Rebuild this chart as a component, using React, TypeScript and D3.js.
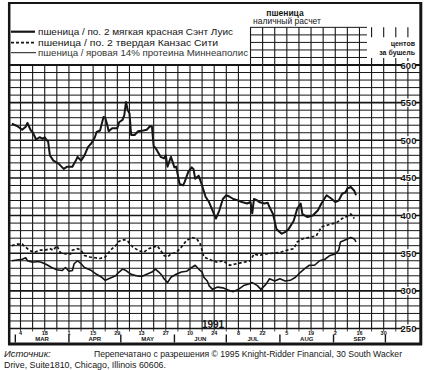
import React from 'react';
import * as d3 from 'd3';

type Pt = [string, number];

// пшеница / по. 2 мягкая красная, Сент-Луис (толстая линия)
const stLouis: Pt[] = [
  ['1991-02-27', 522], ['1991-03-02', 519], ['1991-03-05', 514], ['1991-03-07', 518], ['1991-03-08', 523],
  ['1991-03-10', 513], ['1991-03-11', 511], ['1991-03-13', 501], ['1991-03-15', 504], ['1991-03-17', 502],
  ['1991-03-18', 504], ['1991-03-20', 498], ['1991-03-21', 480], ['1991-03-23', 473], ['1991-03-26', 469],
  ['1991-03-29', 462], ['1991-03-31', 465], ['1991-04-03', 465], ['1991-04-05', 473], ['1991-04-06', 478],
  ['1991-04-08', 473], ['1991-04-10', 480], ['1991-04-12', 491], ['1991-04-14', 496], ['1991-04-16', 504],
  ['1991-04-17', 511], ['1991-04-19', 513], ['1991-04-21', 531], ['1991-04-22', 530], ['1991-04-23', 522],
  ['1991-04-24', 512], ['1991-04-26', 516], ['1991-04-29', 516], ['1991-04-30', 524], ['1991-05-02', 527],
  ['1991-05-03', 533], ['1991-05-04', 551], ['1991-05-05', 540], ['1991-05-06', 536], ['1991-05-07', 507],
  ['1991-05-09', 507], ['1991-05-11', 512], ['1991-05-14', 513], ['1991-05-16', 514], ['1991-05-18', 519],
  ['1991-05-19', 518], ['1991-05-20', 492], ['1991-05-21', 490], ['1991-05-24', 478], ['1991-05-26', 476],
  ['1991-05-27', 480], ['1991-05-28', 465], ['1991-05-30', 478], ['1991-06-01', 464], ['1991-06-02', 465],
  ['1991-06-04', 442], ['1991-06-06', 440], ['1991-06-07', 445], ['1991-06-09', 458], ['1991-06-11', 464],
  ['1991-06-12', 462], ['1991-06-13', 449], ['1991-06-15', 453], ['1991-06-17', 440], ['1991-06-19', 425],
  ['1991-06-21', 418], ['1991-06-23', 407], ['1991-06-25', 396], ['1991-06-27', 407], ['1991-06-29', 422],
  ['1991-07-01', 427], ['1991-07-03', 425], ['1991-07-05', 422], ['1991-07-08', 420], ['1991-07-10', 418],
  ['1991-07-13', 416], ['1991-07-15', 418], ['1991-07-16', 403], ['1991-07-17', 422], ['1991-07-19', 420],
  ['1991-07-20', 418], ['1991-07-23', 416], ['1991-07-25', 417], ['1991-07-26', 411], ['1991-07-28', 402],
  ['1991-07-30', 382], ['1991-08-02', 376], ['1991-08-04', 378], ['1991-08-06', 382], ['1991-08-09', 393],
  ['1991-08-11', 409], ['1991-08-13', 416], ['1991-08-14', 402], ['1991-08-17', 398], ['1991-08-20', 400],
  ['1991-08-23', 407], ['1991-08-25', 416], ['1991-08-28', 427], ['1991-08-31', 422], ['1991-09-02', 418],
  ['1991-09-04', 420], ['1991-09-06', 429], ['1991-09-08', 431], ['1991-09-09', 436], ['1991-09-11', 438],
  ['1991-09-13', 433], ['1991-09-14', 427],
];

// пшеница / по. 2 твердая, Канзас-Сити (пунктир)
const kansasCity: Pt[] = [
  ['1991-02-27', 360], ['1991-03-02', 362], ['1991-03-05', 362], ['1991-03-07', 358], ['1991-03-09', 354],
  ['1991-03-12', 351], ['1991-03-15', 354], ['1991-03-18', 354], ['1991-03-21', 356], ['1991-03-23', 354],
  ['1991-03-25', 360], ['1991-03-27', 351], ['1991-03-30', 349], ['1991-04-02', 349], ['1991-04-03', 354],
  ['1991-04-06', 356], ['1991-04-08', 354], ['1991-04-10', 347], ['1991-04-13', 345], ['1991-04-16', 344],
  ['1991-04-19', 343], ['1991-04-22', 345], ['1991-04-25', 354], ['1991-04-28', 360], ['1991-04-30', 366],
  ['1991-05-03', 368], ['1991-05-05', 366], ['1991-05-08', 358], ['1991-05-11', 354], ['1991-05-14', 351],
  ['1991-05-17', 356], ['1991-05-20', 358], ['1991-05-22', 360], ['1991-05-24', 354], ['1991-05-26', 347],
  ['1991-05-28', 345], ['1991-05-30', 349], ['1991-06-02', 351], ['1991-06-05', 358], ['1991-06-08', 367],
  ['1991-06-11', 371], ['1991-06-14', 369], ['1991-06-16', 362], ['1991-06-18', 345], ['1991-06-20', 343],
  ['1991-06-23', 340], ['1991-06-26', 338], ['1991-06-29', 340], ['1991-07-03', 334], ['1991-07-07', 336],
  ['1991-07-11', 338], ['1991-07-15', 340], ['1991-07-17', 349], ['1991-07-20', 347], ['1991-07-24', 349],
  ['1991-07-28', 350], ['1991-08-01', 351], ['1991-08-05', 354], ['1991-08-09', 356], ['1991-08-11', 365],
  ['1991-08-14', 369], ['1991-08-18', 371], ['1991-08-22', 373], ['1991-08-25', 385], ['1991-08-28', 387],
  ['1991-08-31', 389], ['1991-09-03', 391], ['1991-09-06', 396], ['1991-09-08', 398], ['1991-09-11', 402],
  ['1991-09-13', 396],
];

// пшеница / яровая 14% протеина, Миннеаполис (тонкая линия)
const minneapolis: Pt[] = [
  ['1991-02-27', 340], ['1991-03-02', 341], ['1991-03-05', 342], ['1991-03-07', 344], ['1991-03-08', 340],
  ['1991-03-11', 338], ['1991-03-14', 339], ['1991-03-16', 338], ['1991-03-19', 335], ['1991-03-22', 331],
  ['1991-03-25', 328], ['1991-03-28', 327], ['1991-03-30', 331], ['1991-04-01', 326], ['1991-04-03', 327],
  ['1991-04-04', 336], ['1991-04-06', 340], ['1991-04-08', 336], ['1991-04-10', 331], ['1991-04-12', 329],
  ['1991-04-14', 327], ['1991-04-17', 322], ['1991-04-20', 318], ['1991-04-22', 314], ['1991-04-25', 317],
  ['1991-04-28', 320], ['1991-04-30', 325], ['1991-05-02', 329], ['1991-05-04', 327], ['1991-05-07', 322],
  ['1991-05-10', 320], ['1991-05-13', 319], ['1991-05-16', 322], ['1991-05-19', 325], ['1991-05-21', 329],
  ['1991-05-23', 325], ['1991-05-25', 320], ['1991-05-26', 316], ['1991-05-28', 311], ['1991-05-30', 318],
  ['1991-06-02', 322], ['1991-06-05', 325], ['1991-06-08', 326], ['1991-06-11', 331], ['1991-06-13', 334],
  ['1991-06-15', 329], ['1991-06-17', 325], ['1991-06-18', 318], ['1991-06-20', 313], ['1991-06-21', 307],
  ['1991-06-23', 302], ['1991-06-26', 305], ['1991-06-29', 304], ['1991-07-02', 301], ['1991-07-05', 299],
  ['1991-07-08', 302], ['1991-07-11', 307], ['1991-07-14', 309], ['1991-07-16', 311], ['1991-07-19', 307],
  ['1991-07-21', 302], ['1991-07-24', 309], ['1991-07-26', 316], ['1991-07-29', 313], ['1991-08-01', 316],
  ['1991-08-04', 313], ['1991-08-07', 314], ['1991-08-10', 318], ['1991-08-13', 325], ['1991-08-15', 329],
  ['1991-08-18', 334], ['1991-08-21', 334], ['1991-08-24', 340], ['1991-08-27', 342], ['1991-08-30', 347],
  ['1991-09-02', 349], ['1991-09-04', 354], ['1991-09-05', 365], ['1991-09-07', 367], ['1991-09-09', 369],
  ['1991-09-11', 371], ['1991-09-13', 369], ['1991-09-14', 365],
];

const yTicks = [250, 300, 350, 400, 450, 500, 550, 600];
const dateTicks = [
  '1991-03-04', '1991-03-18', '1991-04-01', '1991-04-15', '1991-04-29', '1991-05-13', '1991-05-27', '1991-06-10',
  '1991-06-24', '1991-07-08', '1991-07-22', '1991-08-05', '1991-08-19', '1991-09-02', '1991-09-16', '1991-09-30',
];
const monthLabels = ['MAR', 'APR', 'MAY', 'JUN', 'JUL', 'AUG', 'SEP'];
const monthStarts = ['1991-03-01', '1991-04-01', '1991-05-01', '1991-06-01', '1991-07-01', '1991-08-01', '1991-09-01', '1991-10-01'];
const legendLabels = [
  'пшеница / по. 2 мягкая красная Сэнт Луис',
  'пшеница / по. 2 твердая Канзас Сити',
  'пшеница / яровая 14% протеина Миннеаполис',
];

const parse = d3.utcParse('%Y-%m-%d');
const FONT = '"Liberation Sans", Arial, sans-serif';
const INK = '#161616';

export default function App() {
  const x = d3.scaleUtc()
    .domain([parse('1991-02-25')!, parse('1991-10-21')!])
    .range([8.4, 420]);
  const y = d3.scaleLinear().domain([250, 600]).range([328.5, 65]);

  const weeks = d3.utcMonday.range(parse('1991-02-26')!, parse('1991-10-21')!);
  const hLines = d3.range(250, 601, 10);
  const headerLines = d3.range(610, 651, 10);

  const line = d3.line<Pt>()
    .x(d => x(parse(d[0])!))
    .y(d => y(d[1]));

  const legendY = [31.7, 42.7, 52.7];
  const boxLeft = 250, boxRight = 367;

  return (
    <svg width={428} height={370} style={{ position: 'absolute', left: 0, top: 0, background: '#fff' }}
      fontFamily={FONT}>
      <rect width={428} height={370} fill="#fff" />

      {/* сетка: горизонтальные линии */}
      {hLines.map(v => (
        <line key={'h' + v} x1={9} x2={420} y1={y(v)} y2={y(v)} stroke={INK}
          strokeWidth={v === 600 ? 2.2 : v % 50 === 0 ? 1.6 : 1} />
      ))}
      {headerLines.map(v => (
        <line key={'hh' + v} x1={boxLeft} x2={boxRight} y1={y(v)} y2={y(v)} stroke={INK} strokeWidth={1} />
      ))}

      {/* сетка: недели */}
      {weeks.map((w, i) => {
        const xx = x(w);
        return (
          <g key={'w' + i}>
            <line x1={xx} x2={xx} y1={y(600)} y2={y(250)} stroke={INK} strokeWidth={1.1} />
            {xx >= boxLeft - 1 && xx <= boxRight && (
              <line x1={xx} x2={xx} y1={y(650)} y2={y(600)} stroke={INK} strokeWidth={1.1} />
            )}
            {xx > boxRight && (
              <>
                <line x1={xx} x2={xx} y1={y(650)} y2={y(650) + 10} stroke={INK} strokeWidth={1.1} />
                <line x1={xx} x2={xx} y1={y(600) - 7} y2={y(600)} stroke={INK} strokeWidth={1.1} />
              </>
            )}
            <line x1={xx} x2={xx} y1={y(250)} y2={y(250) + 3} stroke={INK} strokeWidth={0.8} />
          </g>
        );
      })}

      {/* ряды цен */}
      <path d={line(minneapolis) ?? ''} fill="none" stroke={INK} strokeWidth={1.6} strokeLinejoin="round" />
      <path d={line(kansasCity) ?? ''} fill="none" stroke={INK} strokeWidth={1.7} strokeDasharray="3 2.2" />
      <path d={line(stLouis) ?? ''} fill="none" stroke={INK} strokeWidth={2} strokeLinejoin="round" />

      {/* правая шкала */}
      {yTicks.map(v => (
        <g key={'yt' + v}>
          <rect x={402} y={y(v) - 4} width={13} height={8} fill="#fff" />
          <text x={408.5} y={y(v) + 3.5} textAnchor="middle" fontSize={9.5} fontWeight="bold" fill={INK}>{v}</text>
        </g>
      ))}
      <text x={415} y={45.5} textAnchor="end" fontSize={7} fontWeight="bold" fill={INK}>центов</text>
      <text x={415} y={55} textAnchor="end" fontSize={7} fontWeight="bold" fill={INK}>за бушель</text>

      {/* заголовок */}
      <text x={285} y={15.5} textAnchor="middle" fontSize={8.5} fontWeight="bold" fill={INK}>пшеница</text>
      <text x={287} y={24} textAnchor="middle" fontSize={8.5} fill={INK}>наличный расчет</text>

      {/* легенда */}
      <line x1={11} x2={35} y1={legendY[0]} y2={legendY[0]} stroke={INK} strokeWidth={2.2} />
      <line x1={11} x2={36} y1={legendY[1]} y2={legendY[1]} stroke={INK} strokeWidth={1.8} strokeDasharray="3 2" />
      <line x1={11} x2={36} y1={legendY[2]} y2={legendY[2]} stroke={INK} strokeWidth={1} />
      {legendLabels.map((t, i) => (
        <text key={'lg' + i} x={38} y={legendY[i] + 3.4} fontSize={9.8} fill={i === 2 ? '#333' : INK}
          textLength={[195, 180, 210][i]} lengthAdjust="spacingAndGlyphs">{t}</text>
      ))}

      {/* нижняя ось */}
      <text x={213} y={327.5} textAnchor="middle" fontSize={10} fontWeight="bold" fill={INK}>1991</text>
      {dateTicks.map(d => (
        <text key={'dt' + d} x={x(parse(d)!)} y={335} textAnchor="middle" fontSize={5.5} fontWeight="bold" fill={INK}>
          {d3.utcFormat('%-d')(parse(d)!)}
        </text>
      ))}
      {monthStarts.map(d => (
        <line key={'ms' + d} x1={x(parse(d)!)} x2={x(parse(d)!)} y1={334.5} y2={342.5} stroke={INK} strokeWidth={1.4} />
      ))}
      {monthLabels.map((m, i) => {
        const mid = (x(parse(monthStarts[i])!) + x(parse(monthStarts[i + 1])!)) / 2;
        return (
          <text key={'ml' + m} x={mid} y={341} textAnchor="middle" fontSize={6} fontWeight="bold" fill={INK}>{m}</text>
        );
      })}

      {/* рамка */}
      <line x1={9.2} x2={9.2} y1={2} y2={345} stroke={INK} strokeWidth={2.5} />
      <line x1={420.8} x2={420.8} y1={2} y2={345} stroke={INK} strokeWidth={3} />
      <line x1={8} x2={422} y1={3} y2={3} stroke={INK} strokeWidth={2} />
      <line x1={8} x2={422} y1={344} y2={344} stroke={INK} strokeWidth={3} />

      {/* источник */}
      <text x={4} y={356.5} fontSize={9.5} fontStyle="italic" fill={INK}>Источник:</text>
      <text x={94} y={356.5} fontSize={9} fill={INK} textLength={308} lengthAdjust="spacingAndGlyphs">
        Перепечатано с разрешения © 1995 Knight-Ridder Financial, 30 South Wacker
      </text>
      <text x={4} y={367.5} fontSize={9.5} fill={INK} textLength={162} lengthAdjust="spacingAndGlyphs">
        Drive, Suite1810, Chicago, Illinois 60606.
      </text>
    </svg>
  );
}
